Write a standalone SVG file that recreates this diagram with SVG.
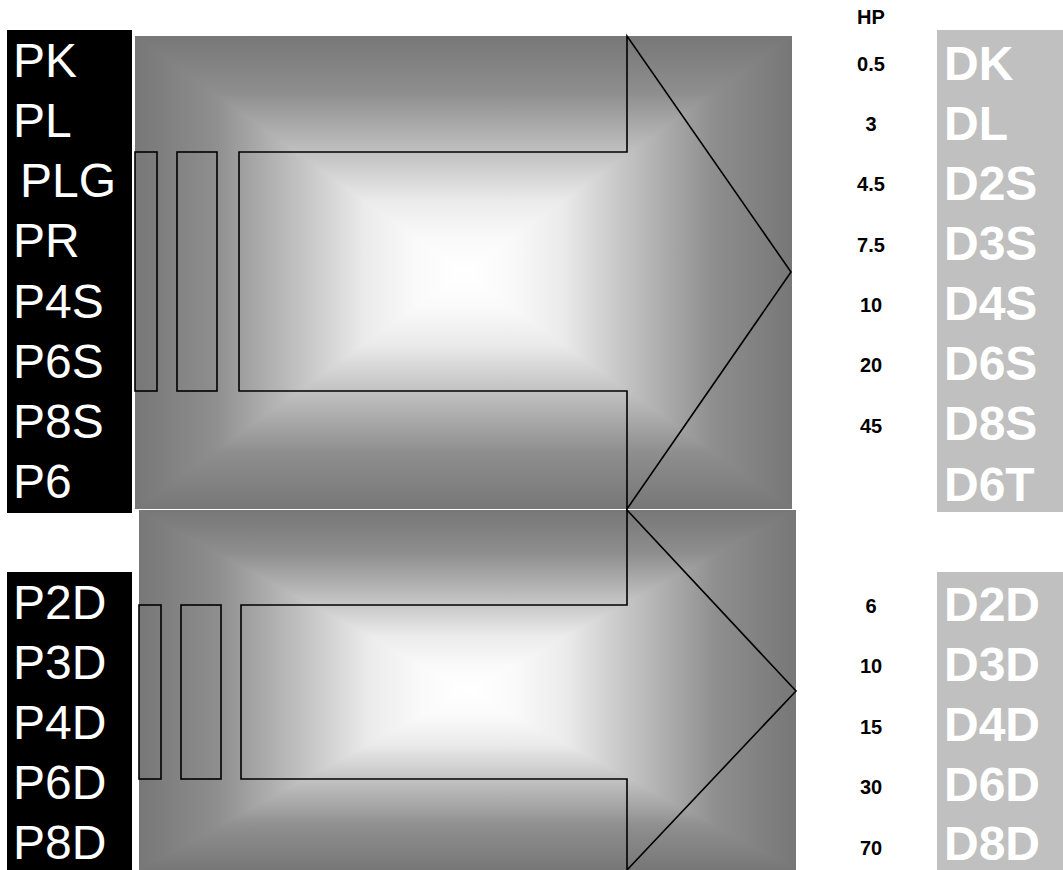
<svg xmlns="http://www.w3.org/2000/svg" width="1063" height="870" viewBox="0 0 1063 870">
<style>
.lbl{font-family:"Liberation Sans",Arial,sans-serif;font-size:48px;fill:#fff}
.dl{font-family:"Liberation Sans",Arial,sans-serif;font-size:48px;font-weight:bold;fill:#fff}
.hp{font-family:"Liberation Sans",Arial,sans-serif;font-size:20px;font-weight:bold;fill:#000;text-anchor:middle}
.ol{fill:none;stroke:#000;stroke-width:1.6;stroke-linejoin:miter}
</style>
<defs>
<linearGradient id="h1" gradientUnits="userSpaceOnUse" x1="135" y1="0" x2="792" y2="0">
<stop offset="0" stop-color="#777"/><stop offset="0.12" stop-color="#8e8e8e"/><stop offset="0.25" stop-color="#c2c2c2"/><stop offset="0.35" stop-color="#ebebeb"/><stop offset="0.43" stop-color="#fafafa"/><stop offset="0.5" stop-color="#fff"/><stop offset="0.57" stop-color="#fafafa"/><stop offset="0.65" stop-color="#ebebeb"/><stop offset="0.75" stop-color="#c2c2c2"/><stop offset="0.88" stop-color="#8e8e8e"/><stop offset="1" stop-color="#777"/>
</linearGradient>
<linearGradient id="v1" gradientUnits="userSpaceOnUse" x1="0" y1="36" x2="0" y2="509">
<stop offset="0" stop-color="#777"/><stop offset="0.12" stop-color="#8e8e8e"/><stop offset="0.25" stop-color="#c2c2c2"/><stop offset="0.35" stop-color="#ebebeb"/><stop offset="0.43" stop-color="#fafafa"/><stop offset="0.5" stop-color="#fff"/><stop offset="0.57" stop-color="#fafafa"/><stop offset="0.65" stop-color="#ebebeb"/><stop offset="0.75" stop-color="#c2c2c2"/><stop offset="0.88" stop-color="#8e8e8e"/><stop offset="1" stop-color="#777"/>
</linearGradient>
<linearGradient id="h2" href="#h1" x1="139" x2="796"/>
<linearGradient id="v2" href="#v1" y1="510" y2="870"/>
</defs>
<rect width="1063" height="870" fill="#fff"/>

<g id="panel-top">
<rect x="135" y="36" width="657" height="473" fill="url(#h1)"/>
<polygon points="135,36 792,36 463.5,272.5" fill="url(#v1)"/>
<polygon points="135,509 792,509 463.5,272.5" fill="url(#v1)"/>
</g>
<g id="panel-bottom">
<rect x="139" y="510" width="657" height="360" fill="url(#h2)"/>
<polygon points="139,510 796,510 467.5,690" fill="url(#v2)"/>
<polygon points="139,870 796,870 467.5,690" fill="url(#v2)"/>
</g>

<g id="connectors">
<g id="arrow-top">
<rect class="ol" x="135" y="152" width="22" height="239"/>
<rect class="ol" x="177" y="152" width="40" height="239"/>
<polygon class="ol" points="239,152 627,152 627,36 791,272 627,509 627,391 239,391"/>
</g>
<g id="arrow-bottom">
<rect class="ol" x="139" y="605" width="22" height="174"/>
<rect class="ol" x="181" y="605" width="40" height="174"/>
<polygon class="ol" points="241,605 627,605 627,510 796,691 627,870 627,779 241,779"/>
</g>
</g>

<g id="left-top">
<rect x="7" y="30" width="125" height="483" fill="#000"/>
<text class="lbl" x="13" y="77">PK</text>
<text class="lbl" x="13" y="137">PL</text>
<text class="lbl" x="20" y="197">PLG</text>
<text class="lbl" x="13" y="257">PR</text>
<text class="lbl" x="13" y="318">P4S</text>
<text class="lbl" x="13" y="378">P6S</text>
<text class="lbl" x="13" y="438">P8S</text>
<text class="lbl" x="13" y="498">P6</text>
</g>
<g id="left-bottom">
<rect x="7" y="572" width="125" height="298" fill="#000"/>
<text class="lbl" x="13" y="619">P2D</text>
<text class="lbl" x="13" y="679">P3D</text>
<text class="lbl" x="13" y="739">P4D</text>
<text class="lbl" x="13" y="799">P6D</text>
<text class="lbl" x="13" y="859">P8D</text>
</g>

<g id="hp-top">
<text class="hp" x="871" y="24">HP</text>
<text class="hp" x="871" y="71">0.5</text>
<text class="hp" x="871" y="131">3</text>
<text class="hp" x="871" y="191">4.5</text>
<text class="hp" x="871" y="252">7.5</text>
<text class="hp" x="871" y="312">10</text>
<text class="hp" x="871" y="372">20</text>
<text class="hp" x="871" y="433">45</text>
</g>
<g id="hp-bottom">
<text class="hp" x="871" y="613">6</text>
<text class="hp" x="871" y="673">10</text>
<text class="hp" x="871" y="734">15</text>
<text class="hp" x="871" y="794">30</text>
<text class="hp" x="871" y="855">70</text>
</g>

<g id="right-top">
<rect x="937" y="30" width="126" height="482" fill="#c0c0c0"/>
<text class="dl" x="944" y="80">DK</text>
<text class="dl" x="944" y="140">DL</text>
<text class="dl" x="944" y="200">D2S</text>
<text class="dl" x="944" y="260">D3S</text>
<text class="dl" x="944" y="320">D4S</text>
<text class="dl" x="944" y="380">D6S</text>
<text class="dl" x="944" y="440">D8S</text>
<text class="dl" x="944" y="501">D6T</text>
</g>
<g id="right-bottom">
<rect x="937" y="572" width="126" height="298" fill="#c0c0c0"/>
<text class="dl" x="944" y="621">D2D</text>
<text class="dl" x="944" y="681">D3D</text>
<text class="dl" x="944" y="741">D4D</text>
<text class="dl" x="944" y="801">D6D</text>
<text class="dl" x="944" y="860">D8D</text>
</g>
</svg>
